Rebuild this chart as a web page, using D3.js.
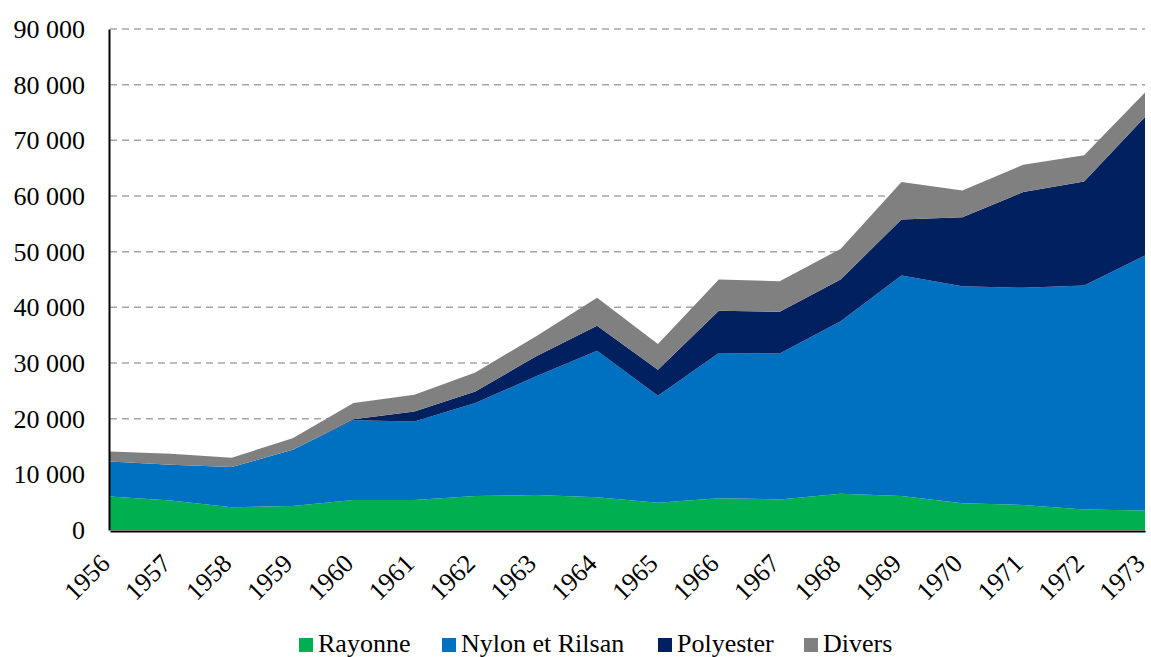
<html>
<head>
<meta charset="utf-8">
<script src="https://d3js.org/d3.v7.min.js"></script>
<style>
  body { margin: 0; background: white; }
</style>
</head>
<body>
<svg width="1151" height="657"></svg>
<script>
// data
var years = [1956,1957,1958,1959,1960,1961,1962,1963,1964,1965,1966,1967,1968,1969,1970,1971,1972,1973];
var rayonne = [6000,5300,4100,4300,5400,5400,6100,6300,5900,4900,5700,5500,6500,6100,4800,4500,3700,3500];
var nylon = [6300,6400,7200,10100,14300,14100,16700,21300,26300,19200,26100,26200,31000,39600,39000,39000,40200,45800];
var polyester = [0,0,0,0,200,1800,2100,3600,4500,4700,7600,7500,7500,10100,12400,17200,18700,24900];
var divers = [1800,2000,1700,2100,2900,3000,3400,3600,5000,4600,5600,5500,5500,6700,4800,4900,4700,4400];
var seriesNames = ["Rayonne", "Nylon et Rilsan", "Polyester", "Divers"];
var colors = ["#00b050", "#0070c0", "#002060", "#808080"];
var yTicks = [0,10000,20000,30000,40000,50000,60000,70000,80000,90000];

var serif = "'Liberation Serif', 'Times New Roman', serif";
var svg = d3.select("svg");

var x = d3.scaleLinear().domain([1956, 1973]).range([110, 1145]);
var y = d3.scaleLinear().domain([0, 90000]).range([530, 29]);

var table = years.map(function (yr, i) {
  return { year: yr, "Rayonne": rayonne[i], "Nylon et Rilsan": nylon[i], "Polyester": polyester[i], "Divers": divers[i] };
});
var stacked = d3.stack().keys(seriesNames)(table);

// gridlines
svg.append("g").selectAll("line")
  .data(yTicks.slice(1))
  .enter().append("line")
    .attr("x1", 110).attr("x2", 1145)
    .attr("y1", function (d) { return y(d); })
    .attr("y2", function (d) { return y(d); })
    .attr("stroke", "#a6a6a6")
    .attr("stroke-width", 1.5)
    .attr("stroke-dasharray", "7,5");

var area = d3.area()
  .x(function (d) { return x(d.data.year); })
  .y0(function (d) { return y(d[0]); })
  .y1(function (d) { return y(d[1]); });

svg.append("g").selectAll("path")
  .data(stacked)
  .enter().append("path")
    .attr("d", area)
    .attr("fill", function (d, i) { return colors[i]; });

// y axis
var fmt = function (d) { return d3.format(",")(d).replace(",", " "); };
var yAxis = svg.append("g")
  .attr("transform", "translate(109,0)")
  .call(d3.axisLeft(y).tickValues(yTicks).tickSize(0).tickPadding(24).tickFormat(fmt));
yAxis.attr("font-family", null).attr("font-size", null);
yAxis.select(".domain").attr("stroke", "black").attr("stroke-width", 2);
yAxis.selectAll("text")
  .style("font-family", serif)
  .style("font-size", "26px")
  .attr("fill", "black")
  .attr("dy", "0.33em");

// x axis
var xAxis = svg.append("g")
  .attr("transform", "translate(0,531)")
  .call(d3.axisBottom(x).tickValues(years).tickSize(0).tickFormat(d3.format("d")));
xAxis.attr("font-family", null).attr("font-size", null);
xAxis.select(".domain").attr("stroke", "black").attr("stroke-width", 2);
xAxis.selectAll("text")
  .style("font-family", serif)
  .style("font-size", "26px")
  .attr("fill", "black")
  .attr("text-anchor", "end")
  .attr("dy", null)
  .attr("y", 0)
  .attr("transform", "translate(1,34) rotate(-45)");

// legend
var legendX = [299, 442, 658, 804];
var legend = svg.append("g").selectAll("g")
  .data(seriesNames)
  .enter().append("g")
    .attr("transform", function (d, i) { return "translate(" + legendX[i] + ",0)"; });
legend.append("rect")
  .attr("x", 0).attr("y", 638).attr("width", 14).attr("height", 14)
  .attr("fill", function (d, i) { return colors[i]; });
legend.append("text")
  .attr("x", 19).attr("y", 652)
  .style("font-family", serif)
  .style("font-size", "26px")
  .attr("fill", "black")
  .text(function (d) { return d; });
</script>
</body>
</html>
